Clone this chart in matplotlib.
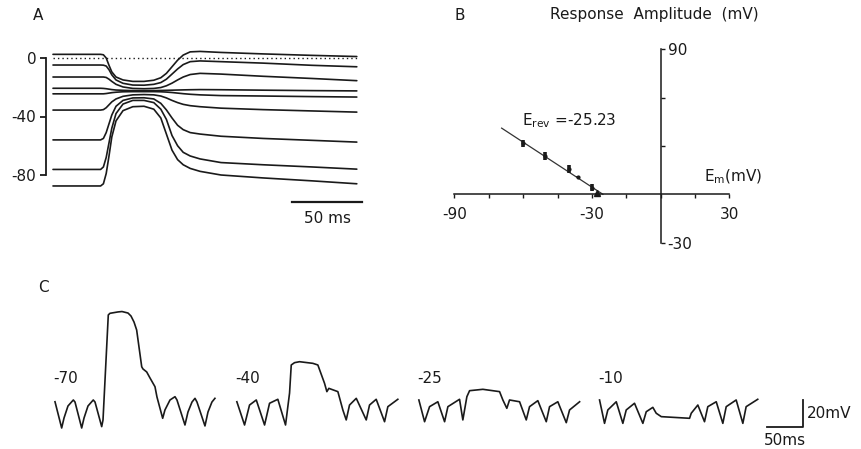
import matplotlib
matplotlib.use("Agg")
import matplotlib.pyplot as plt
import numpy as np

W, H = 861, 449
plt.rcParams['font.family'] = ['DejaVu Sans']
plt.rcParams['mathtext.fontset'] = 'dejavusans'
INK = '#1a1a1a'
FS = 11

# ---------- panel A: voltage-clamp family (ms, mV) ----------
t_a = [0, 34, 36, 38, 40, 42, 45, 50, 57, 65, 72, 77, 81, 85, 89, 93, 98, 105, 120, 150, 185, 217]
traces_a = [
    [2.5, 2.5, 2.2, 0, -5, -9.5, -13, -15, -16, -16, -15.2, -13.5, -10.5, -6, -1.5, 2, 4.2, 4.5, 3.8, 2.8, 1.8, 1],
    [-4.8, -4.8, -4.9, -5.5, -8, -11.5, -15, -17.3, -18.5, -18.6, -18, -16.8, -14.5, -11, -7.5, -4.5, -2.5, -2, -2.5, -3.5, -5, -6],
    [-13, -13, -13, -13.3, -14.5, -16, -18, -19.8, -20.8, -21, -20.8, -20.2, -19, -17.2, -15, -13, -11.3, -10.5, -11, -12.5, -14, -15.5],
    [-20.7, -20.7, -20.8, -21, -21.3, -21.6, -21.9, -22.1, -22.3, -22.3, -22.3, -22.2, -22.1, -22, -21.9, -21.8, -21.7, -21.6, -21.7, -22, -22.3, -22.5],
    [-24.5, -24.5, -24.5, -24.3, -24, -23.7, -23.4, -23.1, -23, -23, -23, -23.1, -23.3, -23.6, -24, -24.4, -24.8, -25.2, -25.7, -26, -26.4, -26.7],
    [-35.6, -35.6, -35.3, -34, -32, -30, -28, -26.2, -25.2, -25, -25.2, -26, -27.3, -29, -30.5, -31.7, -32.6, -33.3, -34.3, -35.3, -36.2, -37],
    [-56, -56, -55, -51, -45, -39, -33, -29, -27.3, -27.2, -28, -31, -35.5, -41, -46, -49, -51, -52, -53.5, -55, -56.3, -57.5],
    [-76.2, -76.2, -74.5, -68, -58, -48, -38, -31.5, -29, -29, -30.5, -35, -42, -53, -60, -64.5, -67, -69, -71.5, -73, -74.5, -76],
    [-87.5, -87.5, -86, -79, -67, -54, -43, -36, -33.3, -33, -35, -41, -52, -63, -69.5, -73, -75.5, -77.5, -80, -82, -84, -86],
]
yticks_a = [0, -40, -80]

# ---------- panel B: response amplitude vs membrane potential ----------
em_b = [-59.9, -50.3, -39.9, -36.2, -29.8]
amp_b = [31.6, 23.8, 15.5, 10.9, 4.1]
err_b = [2.4, 2.4, 2.4, 0.4, 2.2]
tri_em, tri_amp = -27.9, 1.0
e_rev = -25.23
fit_slope = -0.93
fit_start = -69.4

# ---------- panel C: responses at four holding potentials (ms, mV) ----------
holding_c = ['-70', '-40', '-25', '-10']
t_c = [
    [0, 9.1, 12.3, 17.7, 25.0, 27.3, 36.4, 39.6, 45.0, 52.2, 54.6, 63.7, 65.5, 72.7, 75.0,
     85.9, 91.4, 99.6, 103.7, 107.8, 111.4, 118.3, 120.0, 125.1, 129.6, 136.4, 139.1, 146.9,
     150.0, 156.9, 163.7, 166.4, 177.3, 181.4, 186.9, 191.0, 193.7, 204.6, 208.7, 214.1, 218.2],
    [0, 10.5, 17.3, 26.5, 37.8, 44.6, 55.9, 66.4, 71.9, 74.2, 78.7, 85.5, 103.7, 110.5, 119.6,
     122.8, 125.5, 137.8, 144.6, 149.2, 153.7, 162.9, 176.5, 181.0, 190.1, 201.5, 206.0, 219.6],
    [0, 7.8, 14.6, 25.9, 35.1, 39.6, 55.5, 60.0, 65.5, 69.2, 87.3, 110.1, 114.6, 120.0, 123.7,
     137.4, 146.5, 151.0, 162.3, 173.8, 178.3, 189.6, 201.1, 205.6, 219.3],
    [0, 6.8, 11.3, 22.8, 31.8, 36.4, 47.7, 59.1, 63.7, 72.7, 77.3, 84.2, 122.8, 125.1, 134.1,
     143.2, 147.7, 159.2, 168.2, 172.8, 186.4, 195.5, 200.0, 215.8],
]
v_c = [
    [19.2, 0, 7.3, 16.1, 20.5, 19.0, 0, 7.3, 16.1, 20.5, 19.0, 1.0, 5.9, 82.7, 83.9,
     84.9, 85.2, 84.1, 81.9, 77.5, 71.7, 44.8, 43.2, 41.0, 36.6, 30.2, 22.7, 7.1,
     13.2, 20.5, 22.9, 20.5, 2.2, 11.7, 19.0, 21.7, 19.0, 1.5, 11.7, 19.0, 21.7],
    [19.2, 2.2, 16.8, 20.5, 2.2, 18.1, 21.0, 2.2, 25.6, 46.1, 47.8, 48.5, 47.3, 46.1, 32.7,
     26.6, 29.0, 26.6, 13.2, 5.9, 16.8, 21.7, 5.9, 16.8, 21.0, 4.6, 15.6, 21.0],
    [20.5, 4.6, 15.6, 19.2, 4.6, 15.6, 21.0, 5.9, 22.9, 27.3, 28.3, 26.6, 20.5, 14.4, 20.5,
     19.2, 5.9, 15.6, 20.0, 4.6, 15.6, 19.2, 3.9, 13.2, 19.2],
    [20.5, 3.4, 13.2, 19.2, 3.4, 13.2, 18.1, 3.4, 11.9, 15.1, 10.8, 8.3, 7.1, 10.8, 16.8,
     4.6, 15.6, 19.2, 3.4, 15.6, 20.5, 3.4, 15.6, 21.0],
]
start_c = [0, 248.1, 496.4, 742.9]   # where each sweep begins along the strip (ms)


fig = plt.figure(figsize=(W / 100, H / 100), dpi=100)


def place(xlim, ylim, x0, sx, y0, sy):
    # axes whose data units map onto the figure: px = x0 + sx*x, py = y0 - sy*y
    left, right = x0 + sx * xlim[0], x0 + sx * xlim[1]
    top, bottom = y0 - sy * ylim[1], y0 - sy * ylim[0]
    ax = fig.add_axes([left / W, 1 - bottom / H, (right - left) / W, (bottom - top) / H])
    ax.set_xlim(xlim)
    ax.set_ylim(ylim)
    ax.patch.set_visible(False)
    return ax


# ----- A -----
axA = place((-35, 228), (-118, 12), 53, 1.4, 58, 1.4625)
for tr in traces_a:
    axA.plot(t_a, tr, color=INK, lw=1.2, solid_capstyle='round', solid_joinstyle='round')
axA.plot([t_a[0], t_a[-1]], [0, 0], color=INK, lw=1.0, ls=(0, (1, 2.2)))
for s in ['top', 'right', 'bottom']:
    axA.spines[s].set_visible(False)
axA.spines['left'].set_position(('data', -5))
axA.spines['left'].set_bounds(-80, 0)
axA.spines['left'].set_linewidth(1.3)
axA.spines['left'].set_color(INK)
axA.set_xticks([])
axA.set_yticks(yticks_a)
axA.set_yticklabels([str(v) for v in yticks_a], fontsize=FS, color=INK)
axA.tick_params(axis='y', direction='out', length=4, width=1.3, pad=3, colors=INK)
axA.plot([171, 221], [-98.5, -98.5], color=INK, lw=1.6)
axA.text(196, -110, '50 ms', ha='center', va='center', fontsize=FS, color=INK)

# ----- B -----
axB = place((-100, 50), (-40, 105), 660.7, 2.292, 194.3, 1.611)
for s in ['top', 'left']:
    axB.spines[s].set_visible(False)
axB.spines['bottom'].set_position(('data', 0))
axB.spines['bottom'].set_bounds(-90, 30)
axB.spines['right'].set_position(('data', 0))
axB.spines['right'].set_bounds(-30, 90)
for s in ['bottom', 'right']:
    axB.spines[s].set_linewidth(1.1)
    axB.spines[s].set_color(INK)
axB.yaxis.tick_right()
axB.set_xticks([-90, -30, 30])
axB.set_xticks([-75, -60, -45, -15, 0, 15], minor=True)
axB.set_yticks([-30, 90])
axB.set_yticks([30, 60], minor=True)
axB.set_xticklabels(['-90', '-30', '30'], fontsize=FS, color=INK)
axB.set_yticklabels(['-30', '90'], fontsize=FS, color=INK)
axB.tick_params(axis='x', which='both', direction='out', length=3, width=1, pad=6, colors=INK)
axB.tick_params(axis='y', which='both', direction='out', length=3, width=1, pad=2, colors=INK)
fit_x = np.array([fit_start, e_rev])
axB.plot(fit_x, fit_slope * (fit_x - e_rev), color='#333333', lw=0.9)
axB.errorbar(em_b, amp_b, yerr=err_b, fmt='o', ms=2, color=INK, elinewidth=2.6, capsize=0)
axB.plot([tri_em], [tri_amp], marker='^', ms=4, color=INK, ls='none')
axB.text(-60.6, 46, r'$\mathrm{E_{rev}}$ =-25.23', ha='left', va='center', fontsize=FS, color=INK)
axB.text(18.8, 10.9, r'$\mathrm{E_m}$(mV)', ha='left', va='center', fontsize=FS, color=INK)
axB.text(-3, 111.3, 'Response  Amplitude  (mV)', ha='center', va='center', fontsize=FS, color=INK)

# ----- C -----
axC = place((-40, 1090), (-15, 100), 55, 0.733, 428, 1.367)
axC.axis('off')
for lab, x0, tt, vv in zip(holding_c, start_c, t_c, v_c):
    axC.plot(np.array(tt) + x0, vv, color=INK, lw=1.2, solid_joinstyle='round')
    axC.text(x0 - 2, 33, lab, ha='left', va='baseline', fontsize=FS, color=INK)
axC.plot([970.7, 1020.7, 1020.7], [0.5, 0.5, 20.5], color=INK, lw=1.3)
axC.text(1026, 10.5, '20mV', ha='left', va='center', fontsize=FS, color=INK)
axC.text(996, -8.8, '50ms', ha='center', va='center', fontsize=FS, color=INK)

# panel letters
for lab, px, py in [('A', 38, 15), ('B', 460, 15), ('C', 43, 288)]:
    fig.text(px / W, 1 - py / H, lab, ha='center', va='center', fontsize=FS, color=INK)

fig.savefig('out.png', dpi=100)
